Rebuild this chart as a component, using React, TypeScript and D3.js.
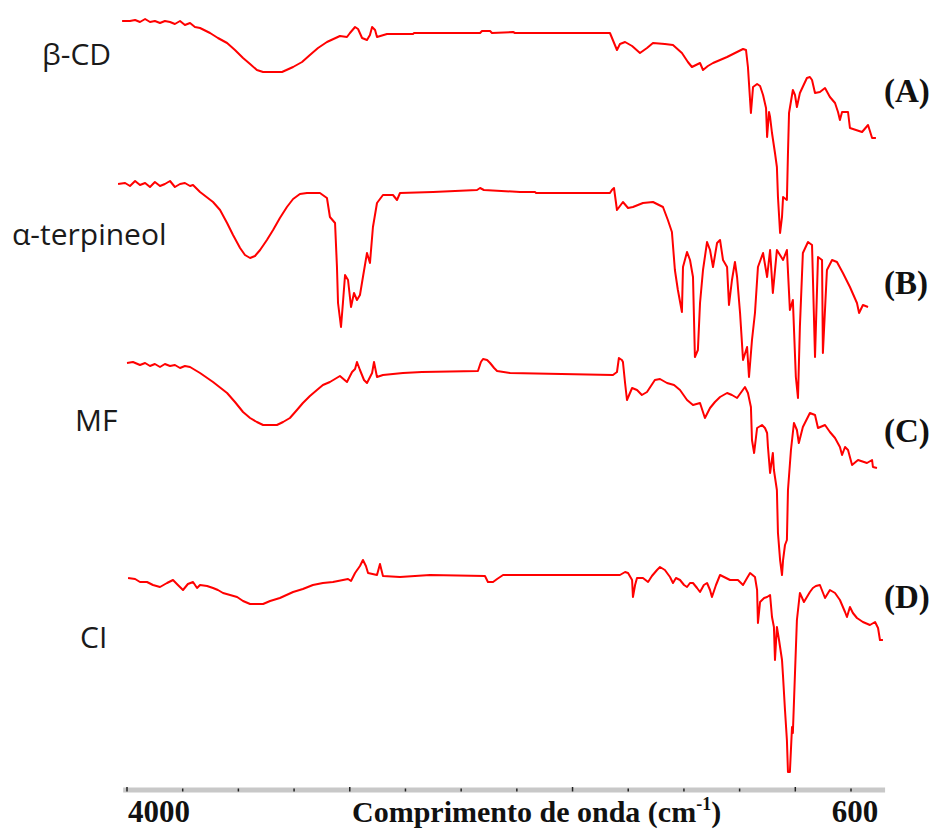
import React from "react";
import * as d3 from "d3";

// Wavenumber (cm-1) and transmittance (a.u., offset stacked)
const betaCD: [number, number][] = [
  [4023, 384.5], [3986, 384.5], [3962, 385], [3939, 384], [3915, 385.5], [3892, 384], [3869, 384.5], [3845, 383.5],
  [3822, 384.5], [3798, 384], [3775, 383], [3751, 384.5], [3728, 382.5], [3704, 383.5], [3681, 381.5], [3657, 381],
  [3610, 378.5], [3573, 376], [3530, 373.5], [3493, 370], [3455, 366], [3422, 363], [3390, 360], [3361, 359],
  [3272, 359], [3220, 361.5], [3178, 364], [3141, 367.5], [3103, 371], [3061, 374], [3000, 377], [2967, 376.5],
  [2953, 378.5], [2929, 381.5], [2915, 380.5], [2896, 376], [2873, 375], [2859, 377.5], [2849, 381.5], [2835, 380],
  [2826, 376.5], [2779, 378], [2657, 378], [2652, 378.5], [2342, 378.5], [2333, 379.5], [2295, 379.5], [2286, 378.5],
  [2187, 379], [2178, 378.5], [1732, 378.5], [1699, 370], [1685, 373], [1661, 374], [1628, 372], [1591, 368.5],
  [1558, 371], [1530, 373.5], [1474, 373], [1436, 372.5], [1394, 368.5], [1366, 364], [1347, 361.5], [1309, 363.5],
  [1295, 360], [1272, 362], [1248, 363.5], [1215, 365], [1182, 366.5], [1154, 368], [1107, 370.5], [1093, 370],
  [1084, 361.5], [1074, 345], [1070, 338.5], [1060, 351.5], [1041, 353], [1027, 352], [1013, 347.5], [999, 341],
  [994, 326.5], [985, 339], [980, 336.5], [971, 328.5], [957, 318.5], [948, 311.5], [943, 296.5], [933, 278.5],
  [924, 286.5], [919, 296.5], [901, 295], [896, 318.5], [891, 338.5], [873, 350], [863, 347.5], [854, 341.5],
  [840, 348.5], [807, 356], [793, 356.5], [783, 355], [769, 348.5], [746, 349], [722, 351], [699, 346.5],
  [675, 343.5], [661, 339], [652, 335], [642, 339], [614, 339], [605, 331], [548, 329], [520, 332.5],
  [501, 326], [483, 326],
];

const terpineol: [number, number][] = [
  [4042, 303], [4009, 303.5], [3986, 302], [3962, 304.5], [3939, 302.5], [3915, 303.5], [3892, 301.5], [3869, 304],
  [3845, 302], [3822, 303], [3798, 304.5], [3775, 301.5], [3751, 303], [3728, 303.5], [3704, 302], [3690, 302.5],
  [3657, 299], [3596, 294], [3563, 290], [3530, 283.5], [3502, 277.5], [3469, 271], [3446, 267.5], [3422, 266],
  [3399, 267], [3375, 270], [3343, 275], [3314, 280], [3282, 286], [3249, 291.5], [3220, 295.5], [3188, 298],
  [3155, 298.5], [3094, 298.5], [3061, 296], [3047, 286.5], [3023, 283.5], [3014, 261.5], [3009, 243.5], [2995, 231.5],
  [2986, 243.5], [2976, 257.5], [2962, 255], [2948, 241.5], [2934, 248.5], [2920, 245], [2906, 247.5], [2892, 256.5],
  [2873, 268.5], [2859, 263.5], [2845, 281.5], [2826, 293.5], [2798, 297.5], [2751, 297.5], [2732, 295], [2718, 298.5],
  [2563, 299], [2356, 300], [2342, 301], [2324, 300], [2154, 299], [2084, 299], [2079, 298.5], [1732, 298.5],
  [1723, 300], [1713, 301], [1699, 290], [1671, 294], [1647, 291], [1624, 291.5], [1577, 293.5], [1530, 294],
  [1483, 291.5], [1460, 285], [1441, 279], [1427, 260], [1413, 250], [1394, 239], [1389, 261.5], [1370, 269],
  [1356, 265], [1342, 256.5], [1333, 216.5], [1319, 220], [1309, 243.5], [1295, 260], [1276, 274], [1262, 270],
  [1248, 261.5], [1229, 273.5], [1215, 275], [1201, 265], [1182, 261.5], [1173, 242.5], [1159, 255], [1145, 264],
  [1135, 256.5], [1121, 238.5], [1107, 215], [1088, 221.5], [1079, 206.5], [1065, 225], [1051, 238.5], [1037, 261.5],
  [1013, 268.5], [994, 256.5], [980, 270], [967, 248.5], [948, 270], [919, 265], [901, 270], [887, 240],
  [873, 245], [859, 206.5], [849, 196], [840, 231.5], [826, 268.5], [802, 274], [783, 272.5], [779, 256.5],
  [769, 216.5], [755, 266.5], [736, 265], [732, 218.5], [713, 260], [689, 265], [666, 264], [638, 258.5],
  [605, 251.5], [572, 243.5], [562, 238.5], [544, 242.5], [520, 241.5],
];

const mf: [number, number][] = [
  [4000, 213.5], [3972, 214], [3939, 212.5], [3915, 213.5], [3892, 212], [3869, 213], [3845, 211.5], [3822, 213],
  [3798, 212], [3775, 212.5], [3751, 211], [3728, 212], [3704, 211.5], [3657, 208.5], [3596, 204], [3530, 198.5],
  [3493, 194], [3455, 189], [3422, 186], [3390, 184], [3361, 182.5], [3296, 182.5], [3267, 184], [3235, 186],
  [3202, 190], [3174, 193.5], [3141, 197], [3108, 200], [3080, 202.5], [3047, 204], [3000, 207], [2967, 204],
  [2943, 209], [2929, 210.5], [2920, 214], [2906, 210], [2887, 205], [2873, 203.5], [2849, 208.5], [2840, 214],
  [2826, 206.5], [2798, 207.5], [2704, 208.5], [2615, 209], [2352, 209.5], [2338, 214], [2328, 215.5], [2309, 215],
  [2295, 213.5], [2276, 211], [2262, 209.5], [2201, 208.5], [1718, 207.5], [1699, 209], [1690, 216], [1676, 215],
  [1671, 214], [1661, 203.5], [1652, 195], [1628, 201], [1605, 200], [1582, 197.5], [1558, 199], [1521, 205],
  [1497, 205.5], [1464, 203.5], [1431, 202.5], [1403, 200], [1370, 195], [1342, 192.5], [1309, 193.5], [1286, 186],
  [1262, 191], [1239, 194], [1215, 196.5], [1182, 198.5], [1159, 197.5], [1135, 196], [1098, 201.5], [1084, 198.5],
  [1070, 191.5], [1065, 175], [1055, 168.5], [1041, 181], [1018, 182.5], [1004, 181], [994, 178.5], [990, 171.5],
  [980, 158.5], [967, 168.5], [962, 160], [948, 150], [943, 128.5], [933, 115], [924, 107.5], [919, 115],
  [910, 122.5], [901, 125], [896, 150], [882, 170], [868, 183.5], [854, 180], [845, 173.5], [826, 181.5],
  [793, 188.5], [769, 187.5], [755, 181], [722, 182.5], [699, 179], [675, 176], [652, 171.5], [642, 167.5],
  [628, 171.5], [614, 170], [595, 162.5], [567, 165], [525, 163.5], [501, 165], [497, 161.5], [478, 161],
];

const ci: [number, number][] = [
  [3995, 106], [3962, 105.5], [3939, 104], [3906, 104], [3878, 102.5], [3845, 101.5], [3812, 103.5], [3784, 105],
  [3761, 102.5], [3737, 100], [3714, 103], [3690, 104], [3671, 101], [3657, 102.5], [3624, 102], [3596, 101],
  [3573, 100], [3549, 98.5], [3516, 97.5], [3483, 96.5], [3455, 94.5], [3422, 93], [3361, 93], [3328, 94.5],
  [3282, 96], [3220, 99], [3174, 100.5], [3127, 102.5], [3080, 103.5], [3033, 104], [2962, 105.5], [2948, 104.5],
  [2929, 108.5], [2906, 112], [2892, 115], [2878, 112], [2868, 108.5], [2826, 107.5], [2812, 113], [2798, 107],
  [2718, 106.5], [2577, 107.5], [2319, 107], [2305, 104], [2281, 104], [2262, 105.5], [2234, 107.5], [1685, 107.5],
  [1661, 109], [1647, 108.5], [1628, 105], [1624, 96.5], [1614, 102.5], [1605, 106], [1577, 106], [1553, 104],
  [1535, 107], [1511, 110], [1497, 111.5], [1474, 110], [1450, 106.5], [1436, 103.5], [1422, 106], [1403, 105],
  [1384, 102.5], [1370, 101.5], [1356, 103.5], [1342, 103.5], [1323, 101], [1309, 99], [1291, 102.5], [1276, 103.5],
  [1262, 100], [1253, 96.5], [1234, 102.5], [1215, 107.5], [1168, 105], [1131, 105], [1107, 102.5], [1088, 106],
  [1074, 108.5], [1051, 106.5], [1041, 100], [1037, 83.5], [1027, 94], [1008, 96], [994, 96.5], [980, 97.5],
  [971, 86.5], [962, 81.5], [957, 65], [948, 81.5], [938, 75], [924, 65], [919, 56.5], [910, 40],
  [901, 25], [896, 9], [887, 9], [877, 31.5], [873, 28.5], [863, 58.5], [854, 85], [840, 98.5],
  [821, 94], [807, 96.5], [793, 99], [779, 101], [765, 102], [746, 102.5], [722, 96], [699, 100],
  [675, 98.5], [652, 95], [628, 89], [619, 86.5], [605, 91.5], [591, 88.5], [572, 86], [544, 84],
  [511, 82.5], [487, 84], [473, 81], [464, 75], [450, 75],
];

const seriesData = [betaCD, terpineol, mf, ci];
const seriesNames = ["β-CD", "α-terpineol", "MF", "CI"];
const panelLetters = ["(A)", "(B)", "(C)", "(D)"];
const tickLabels = ["4000", "600"];
const axisTitle = "Comprimento de onda (cm";

const W = 943;
const H = 831;

export default function App() {
  const x = d3.scaleLinear().domain([4000, 600]).range([127, 851]);
  const y = d3.scaleLinear().domain([0, 390]).range([790, 10]);
  const line = d3
    .line<[number, number]>()
    .x((d) => x(d[0]))
    .y((d) => y(d[1]))
    .curve(d3.curveLinear);

  const tickVals = d3.range(14).map((i) => 4000 - (i * 3400) / 13);

  // label placement (y in data units)
  const nameY = [362.5, 272.5, 179.5, 71];
  const nameX = [42, 12, 75, 80];
  const letterY = [344, 248, 174, 91];

  return (
    <svg
      width={W}
      height={H}
      style={{ position: "absolute", left: 0, top: 0, background: "#fff" }}
    >
      <rect x={0} y={0} width={W} height={H} fill="#fff" />
      {/* axis bar */}
      <line x1={x(4018)} x2={x(440)} y1={y(0)} y2={y(0)} stroke="#c8c8c8" strokeWidth={5} />
      {tickVals.map((t, i) => (
        <line key={i} x1={x(t)} x2={x(t)} y1={y(0) - (i % 4 === 0 ? 3 : 1.5)} y2={y(0) + 1.5} stroke="#222" strokeWidth={1.5} />
      ))}
      <text x={x(4000) + 1} y={822} fontFamily="'Liberation Serif', serif" fontWeight="bold" fontSize={31} fill="#111">
        {tickLabels[0]}
      </text>
      <text x={x(600) + 4} y={822} textAnchor="middle" fontFamily="'Liberation Serif', serif" fontWeight="bold" fontSize={31} fill="#111">
        {tickLabels[1]}
      </text>
      <text x={352} y={822} fontFamily="'Liberation Serif', serif" fontWeight="bold" fontSize={30} fill="#111">
        {axisTitle}
        <tspan fontSize={18} dy={-12}>-1</tspan>
        <tspan dy={12}>)</tspan>
      </text>

      {seriesData.map((s, i) => (
        <path key={i} d={line(s) || ""} fill="none" stroke="#ff0000" strokeWidth={2} strokeLinejoin="round" />
      ))}

      {seriesNames.map((n, i) => (
        <text key={n} x={nameX[i]} y={y(nameY[i])} fontFamily="'Open Sans', sans-serif" fontSize={30} fill="#1a1a1a">
          {n}
        </text>
      ))}
      {panelLetters.map((l, i) => (
        <text key={l} x={884} y={y(letterY[i])} fontFamily="'Liberation Serif', serif" fontWeight="bold" fontSize={33} fill="#111">
          {l}
        </text>
      ))}
    </svg>
  );
}
